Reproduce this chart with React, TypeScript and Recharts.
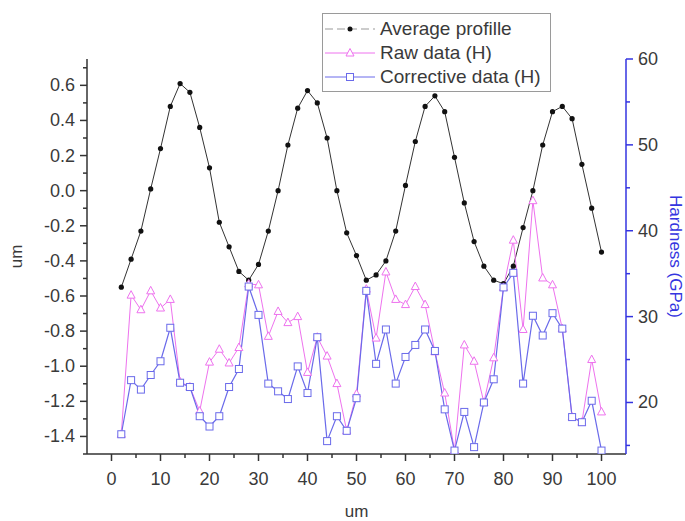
import { ComposedChart, Line, XAxis, YAxis, Legend } from 'recharts';

// position along the scan (um)
const positions = [
  2, 4, 6, 8, 10, 12, 14, 16, 18, 20, 22, 24, 26, 28, 30, 32, 34, 36, 38, 40, 42, 44, 46, 48, 50,
  52, 54, 56, 58, 60, 62, 64, 66, 68, 70, 72, 74, 76, 78, 80, 82, 84, 86, 88, 90, 92, 94, 96, 98, 100,
];

// left axis (um)
const averageProfile = [
  -0.55, -0.39, -0.23, 0.01, 0.24, 0.48, 0.61, 0.56, 0.36, 0.13, -0.18, -0.32, -0.46, -0.51, -0.42,
  -0.23, 0.0, 0.26, 0.47, 0.57, 0.5, 0.3, 0.0, -0.24, -0.37, -0.51, -0.48, -0.4, -0.23, 0.03, 0.28,
  0.48, 0.54, 0.45, 0.19, -0.07, -0.29, -0.43, -0.51, -0.53, -0.43, -0.21, 0.0, 0.26, 0.45, 0.48,
  0.41, 0.15, -0.1, -0.35,
];

// right axis (GPa)
const rawHardness = [
  16.3, 32.5, 30.8, 33.0, 31.0, 32.0, 22.4, 21.8, 19.0, 24.7, 26.2, 24.6, 26.4, 33.8, 33.7, 27.7,
  30.6, 29.3, 30.0, 23.5, 27.6, 25.4, 22.2, 16.7, 21.0, 33.2, 27.5, 35.2, 32.0, 31.4, 33.5, 31.4,
  25.9, 21.1, 14.4, 26.7, 24.8, 20.0, 25.2, 33.4, 38.9, 28.5, 43.5, 34.5, 33.7, 28.6, 18.3, 17.7,
  25.0, 18.9,
];

const correctiveHardness = [
  16.3, 22.6, 21.5, 23.2, 24.8, 28.7, 22.3, 21.8, 18.4, 17.2, 18.4, 21.8, 23.9, 33.5, 30.2, 22.2,
  21.3, 20.4, 24.2, 21.1, 27.6, 15.5, 18.4, 16.7, 20.5, 33.0, 24.5, 28.5, 22.2, 25.3, 26.7, 28.5,
  26.0, 19.2, 14.4, 18.9, 14.8, 20.0, 22.7, 33.4, 35.1, 22.2, 30.1, 27.8, 30.4, 28.6, 18.3, 17.7,
  20.2, 14.4,
];

const xMajorTicks = [0, 10, 20, 30, 40, 50, 60, 70, 80, 90, 100];
const xMinorTicks = [5, 15, 25, 35, 45, 55, 65, 75, 85, 95];
const leftMajorTicks = [-1.4, -1.2, -1.0, -0.8, -0.6, -0.4, -0.2, 0.0, 0.2, 0.4, 0.6];
const leftMinorTicks = [-1.5, -1.3, -1.1, -0.9, -0.7, -0.5, -0.3, -0.1, 0.1, 0.3, 0.5, 0.7];
const rightMajorTicks = [20, 30, 40, 50, 60];
const rightMinorTicks = [15, 25, 35, 45, 55];

const data = positions.map((x, i) => ({
  x,
  avg: averageProfile[i],
  raw: rawHardness[i],
  corr: correctiveHardness[i],
}));

const FONT = '"Liberation Sans", Arial, sans-serif';
const AXIS = '#333';
const TEXT = '#3a3a3a';
const BLUE = '#3434e0';
const RAW = '#ee72ee';
const CORR = '#6a6aea';

const BottomTick = (props: any) => {
  const { x, y, payload } = props;
  const major = xMajorTicks.includes(payload.value);
  return (
    <g>
      <line x1={x} x2={x} y1={y} y2={y + (major ? 7 : 4)} stroke={AXIS} strokeWidth={1.5} />
      {major && (
        <text x={x} y={y + 31} textAnchor="middle" fontSize={18} fill={TEXT} fontFamily={FONT}>
          {payload.value}
        </text>
      )}
    </g>
  );
};

const TopTick = (props: any) => {
  const { x, y, payload } = props;
  const major = xMajorTicks.includes(payload.value);
  return <line x1={x} x2={x} y1={y} y2={y + (major ? 7 : 4)} stroke={AXIS} strokeWidth={1.5} />;
};

const LeftTick = (props: any) => {
  const { x, y, payload } = props;
  const major = leftMajorTicks.includes(payload.value);
  return (
    <g>
      <line x1={x} x2={x - (major ? 7 : 4)} y1={y} y2={y} stroke={AXIS} strokeWidth={1.5} />
      {major && (
        <text x={x - 12} y={y + 6} textAnchor="end" fontSize={18} fill={TEXT} fontFamily={FONT}>
          {payload.value.toFixed(1)}
        </text>
      )}
    </g>
  );
};

const RightTick = (props: any) => {
  const { x, y, payload } = props;
  const major = rightMajorTicks.includes(payload.value);
  return (
    <g>
      <line x1={x} x2={x + (major ? 7 : 4)} y1={y} y2={y} stroke={BLUE} strokeWidth={1.5} />
      {major && (
        <text x={x + 12} y={y + 6} textAnchor="start" fontSize={18} fill={TEXT} fontFamily={FONT}>
          {payload.value}
        </text>
      )}
    </g>
  );
};

const TriangleDot = (props: any) => {
  const { cx, cy, index } = props;
  if (cx == null || cy == null) return <g key={index} />;
  return (
    <path
      key={index}
      d={`M${cx},${cy - 4.5} L${cx + 4},${cy + 3} L${cx - 4},${cy + 3} Z`}
      fill="#fff"
      stroke={RAW}
      strokeWidth={1}
    />
  );
};

const SquareDot = (props: any) => {
  const { cx, cy, index } = props;
  if (cx == null || cy == null) return <g key={index} />;
  return <rect key={index} x={cx - 3.5} y={cy - 3.5} width={7} height={7} fill="#fff" stroke={CORR} strokeWidth={1} />;
};

const legendRows = [
  { name: 'Average profille', kind: 'avg' },
  { name: 'Raw data (H)', kind: 'raw' },
  { name: 'Corrective data (H)', kind: 'corr' },
];

const LegendBox = () => (
  <div
    style={{
      background: '#fff',
      border: '1px solid #9a9a9a',
      width: 227,
      height: 74,
      boxSizing: 'content-box',
      paddingTop: 3,
      fontFamily: FONT,
      fontSize: 19,
      color: TEXT,
    }}
  >
    {legendRows.map((row) => (
      <div key={row.kind} style={{ display: 'flex', alignItems: 'center', height: 24 }}>
        <svg width={54} height={14} style={{ marginLeft: 2 }}>
          {row.kind === 'avg' && (
            <>
              <line x1={0} x2={50} y1={7} y2={7} stroke="#999" strokeDasharray="8 4" />
              <circle cx={25} cy={7} r={2.5} fill="#111" />
            </>
          )}
          {row.kind === 'raw' && (
            <>
              <line x1={0} x2={50} y1={7} y2={7} stroke={RAW} />
              <path d="M25,2.5 L29,10 L21,10 Z" fill="#fff" stroke={RAW} />
            </>
          )}
          {row.kind === 'corr' && (
            <>
              <line x1={0} x2={50} y1={7} y2={7} stroke={CORR} />
              <rect x={21.5} y={3.5} width={7} height={7} fill="#fff" stroke={CORR} />
            </>
          )}
        </svg>
        <span style={{ marginLeft: 1 }}>{row.name}</span>
      </div>
    ))}
  </div>
);

export default function App() {
  return (
    <div style={{ position: 'absolute', left: 0, top: 0, background: '#fff' }}>
      <ComposedChart width={685} height={521} data={data} margin={{ top: 59, right: 0, bottom: 0, left: 0 }}>
        <XAxis
          xAxisId="bottom"
          dataKey="x"
          type="number"
          domain={[-5, 105]}
          allowDataOverflow
          ticks={[...xMajorTicks, ...xMinorTicks]}
          interval={0}
          height={67}
          tickSize={0}
          tickMargin={0}
          tick={BottomTick}
          stroke={AXIS}
          strokeWidth={1.5}
          label={(p: any) => (
            <text
              x={p.viewBox.x + p.viewBox.width / 2}
              y={p.viewBox.y + 63}
              textAnchor="middle"
              fontSize={17}
              fill={TEXT}
              fontFamily={FONT}
            >
              um
            </text>
          )}
        />
        <XAxis
          xAxisId="top"
          orientation="top"
          dataKey="x"
          type="number"
          domain={[-5, 105]}
          allowDataOverflow
          ticks={[...xMajorTicks, ...xMinorTicks]}
          interval={0}
          height={0}
          tickSize={0}
          tickMargin={0}
          tick={TopTick}
          stroke={AXIS}
          strokeWidth={1.5}
        />
        <YAxis
          yAxisId="left"
          type="number"
          domain={[-1.5, 0.75]}
          allowDataOverflow
          ticks={[...leftMajorTicks, ...leftMinorTicks]}
          interval={0}
          width={87}
          tickSize={0}
          tickMargin={0}
          tick={LeftTick}
          stroke={AXIS}
          strokeWidth={1.5}
          label={(p: any) => {
            const cx = 16;
            const cy = p.viewBox.y + p.viewBox.height / 2;
            return (
              <text x={cx} y={cy} transform={`rotate(-90 ${cx} ${cy})`} textAnchor="middle" dominantBaseline="central" fontSize={17} fill={TEXT} fontFamily={FONT}>
                um
              </text>
            );
          }}
        />
        <YAxis
          yAxisId="right"
          orientation="right"
          type="number"
          domain={[14, 60]}
          allowDataOverflow
          ticks={[...rightMajorTicks, ...rightMinorTicks]}
          interval={0}
          width={59}
          tickSize={0}
          tickMargin={0}
          tick={RightTick}
          stroke={BLUE}
          strokeWidth={1.5}
          label={(p: any) => {
            const cx = 675;
            const cy = p.viewBox.y + p.viewBox.height / 2;
            return (
              <text x={cx} y={cy} transform={`rotate(90 ${cx} ${cy})`} textAnchor="middle" dominantBaseline="central" fontSize={17} fill={BLUE} fontFamily={FONT}>
                Hardness (GPa)
              </text>
            );
          }}
        />
        <Line
          xAxisId="bottom"
          yAxisId="left"
          dataKey="avg"
          type="linear"
          stroke="#333"
          strokeWidth={1}
          dot={{ r: 2.6, fill: '#111', stroke: '#111', strokeWidth: 0 }}
          activeDot={false}
          isAnimationActive={false}
        />
        <Line
          xAxisId="bottom"
          yAxisId="right"
          dataKey="raw"
          type="linear"
          stroke={RAW}
          strokeWidth={1}
          dot={TriangleDot}
          activeDot={false}
          isAnimationActive={false}
        />
        <Line
          xAxisId="bottom"
          yAxisId="right"
          dataKey="corr"
          type="linear"
          stroke={CORR}
          strokeWidth={1.2}
          dot={SquareDot}
          activeDot={false}
          isAnimationActive={false}
        />
        <Legend
          layout="horizontal"
          verticalAlign="middle"
          align="center"
          content={<LegendBox />}
          wrapperStyle={{ left: 322, top: 13, width: 231, height: 80 }}
        />
      </ComposedChart>
    </div>
  );
}
